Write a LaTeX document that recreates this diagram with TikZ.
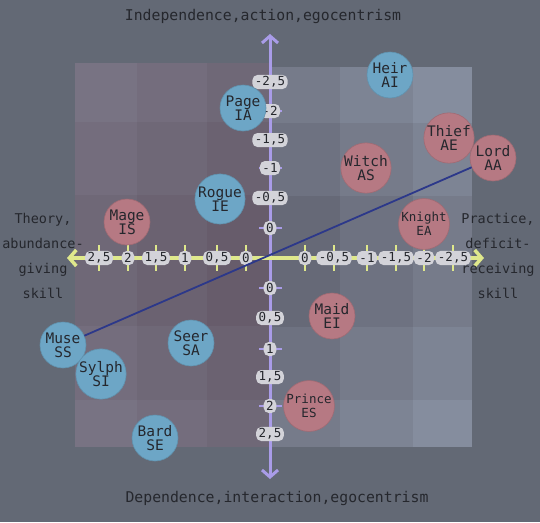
\documentclass[tikz,border=0pt]{standalone}
\usepackage{fontspec}
\setmainfont{DejaVu Sans Mono}
\usetikzlibrary{arrows.meta}
\definecolor{bggray}{HTML}{636975}
\definecolor{tileLlight}{HTML}{787383}
\definecolor{tileLdark}{HTML}{675C6B}
\definecolor{tileRlight}{HTML}{858D9E}
\definecolor{tileRdark}{HTML}{666977}
\definecolor{axisv}{HTML}{A99CE8}
\definecolor{axish}{HTML}{DFE88C}
\definecolor{labgray}{HTML}{D3D3D9}
\definecolor{inkc}{HTML}{25272D}
\definecolor{roleblue}{HTML}{6DA6C6}
\definecolor{rolered}{HTML}{B67983}
\definecolor{linkblue}{HTML}{2C388A}
\tikzset{
  role/.style={circle,minimum size=46pt,inner sep=0pt,align=center,text=inkc,
    font=\fontsize{14.5}{14}\selectfont},
  bluerole/.style={role,fill=roleblue,draw=roleblue!88!black,line width=0.6pt},
  redrole/.style={role,fill=rolered,draw=rolered!88!black,line width=0.6pt},
  longname/.style={font=\fontsize{12.5}{14}\selectfont},
  ticklab/.style={fill=labgray,rounded corners=5pt,inner xsep=2.5pt,inner ysep=1.5pt,
    minimum height=14pt,text=inkc,font=\fontsize{12.5}{12}\selectfont},
  polelab/.style={text=inkc,font=\fontsize{14.8}{15}\selectfont},
  sidelab/.style={text=inkc,align=center,font=\fontsize{13.5}{25}\selectfont},
  linkline/.style={draw=linkblue,line width=1.8pt}
}
\begin{document}
\begin{tikzpicture}[x=1pt,y=-1pt]
    \useasboundingbox (0,0) rectangle (540,522);
    \fill[bggray] (0,0) rectangle (540,522);

    % tiles
    \foreach \xa/\xb/\dc in {75/137/2, 137/207/1, 207/270/0}
      \foreach \ya/\yb/\dr in {63/122/2, 122/195/1, 195/258/0, 258/326/0, 326/400/1, 400/447/2} {
        \pgfmathtruncatemacro\p{(\dc+\dr)*25}
        \fill[tileLlight!\p!tileLdark] (\xa,\ya) rectangle (\xb,\yb);
      }
    \foreach \xa/\xb/\dc in {270/340/0, 340/413/1, 413/472/2}
      \foreach \ya/\yb/\dr in {67/123/2, 123/196/1, 196/258/0, 258/327/0, 327/400/1, 400/447/2} {
        \pgfmathtruncatemacro\p{(\dc+\dr)*25}
        \fill[tileRlight!\p!tileRdark] (\xa,\ya) rectangle (\xb,\yb);
      }

    % axes
    \draw[axisv,line width=3pt,{Straight Barb[length=7pt,width=16pt]}-{Straight Barb[length=7pt,width=16pt]}] (270, 34) -- (270, 479);
    \draw[axish,line width=3.5pt,{Straight Barb[length=7pt,width=16pt]}-{Straight Barb[length=7pt,width=16pt]}] (67, 258) -- (484, 258);
    \foreach \y in {111,168,228,288,349,406}
      \draw[axisv,line width=2pt] (259,\y) -- (282,\y);
    \foreach \x in {99,128,156,185,217,246,305,334,367,396,424,453}
      \draw[axish,line width=2pt] (\x,245) -- (\x,271);

    \foreach \x/\t in {99/{2,5}, 128/2, 156/{1,5}, 185/1, 217/{0,5}, 246/0,
                       305/0, 334/{-0,5}, 367/-1, 396/{-1,5}, 424/-2, 453/{-2,5}}
      \node[ticklab] (hx\x) at (\x,258) {\t};
    \foreach \y/\t in {82/{-2,5}, 111/-2, 140/{-1,5}, 168/-1, 198/{-0,5}, 228/0,
                       288/0, 318/{0,5}, 349/1, 377/{1,5}, 406/2, 434/{2,5}}
      \node[ticklab] (vy\y) at (270,\y) {\t};

    % pole texts
    \node[polelab] (indep) at (263,16) {Independence,action,egocentrism};
    \node[polelab] (dep) at (277,498) {Dependence,interaction,egocentrism};
    \node[sidelab] (theory) at (43,256) {Theory,\\abundance-\\giving\\skill};
    \node[sidelab] (practice) at (498,256) {Practice,\\deficit-\\receiving\\skill};

    % roles
    \node[bluerole] (heir) at (390,75) {Heir\\AI};
    \node[bluerole] (page) at (243,108) {Page\\IA};
    \node[bluerole] (rogue) at (220,199) {Rogue\\IE};
    \node[bluerole] (muse) at (63,345) {Muse\\SS};
    \node[bluerole] (sylph) at (101,374) {Sylph\\SI};
    \node[bluerole] (seer) at (191,343) {Seer\\SA};
    \node[bluerole] (bard) at (155,438) {Bard\\SE};
    \node[redrole] (thief) at (449,138) {Thief\\AE};
    \node[redrole] (lord) at (493,158) {Lord\\AA};
    \node[redrole] (witch) at (366,168) {Witch\\AS};
    \node[redrole] (mage) at (127,222) {Mage\\IS};
    \node[redrole,longname] (knight) at (424,224) {Knight\\EA};
    \node[redrole] (maid) at (332,316) {Maid\\EI};
    \node[redrole,longname] (prince) at (309,406) {Prince\\ES};

    \draw[linkline] (muse) -- (lord);
\end{tikzpicture}
\end{document}
